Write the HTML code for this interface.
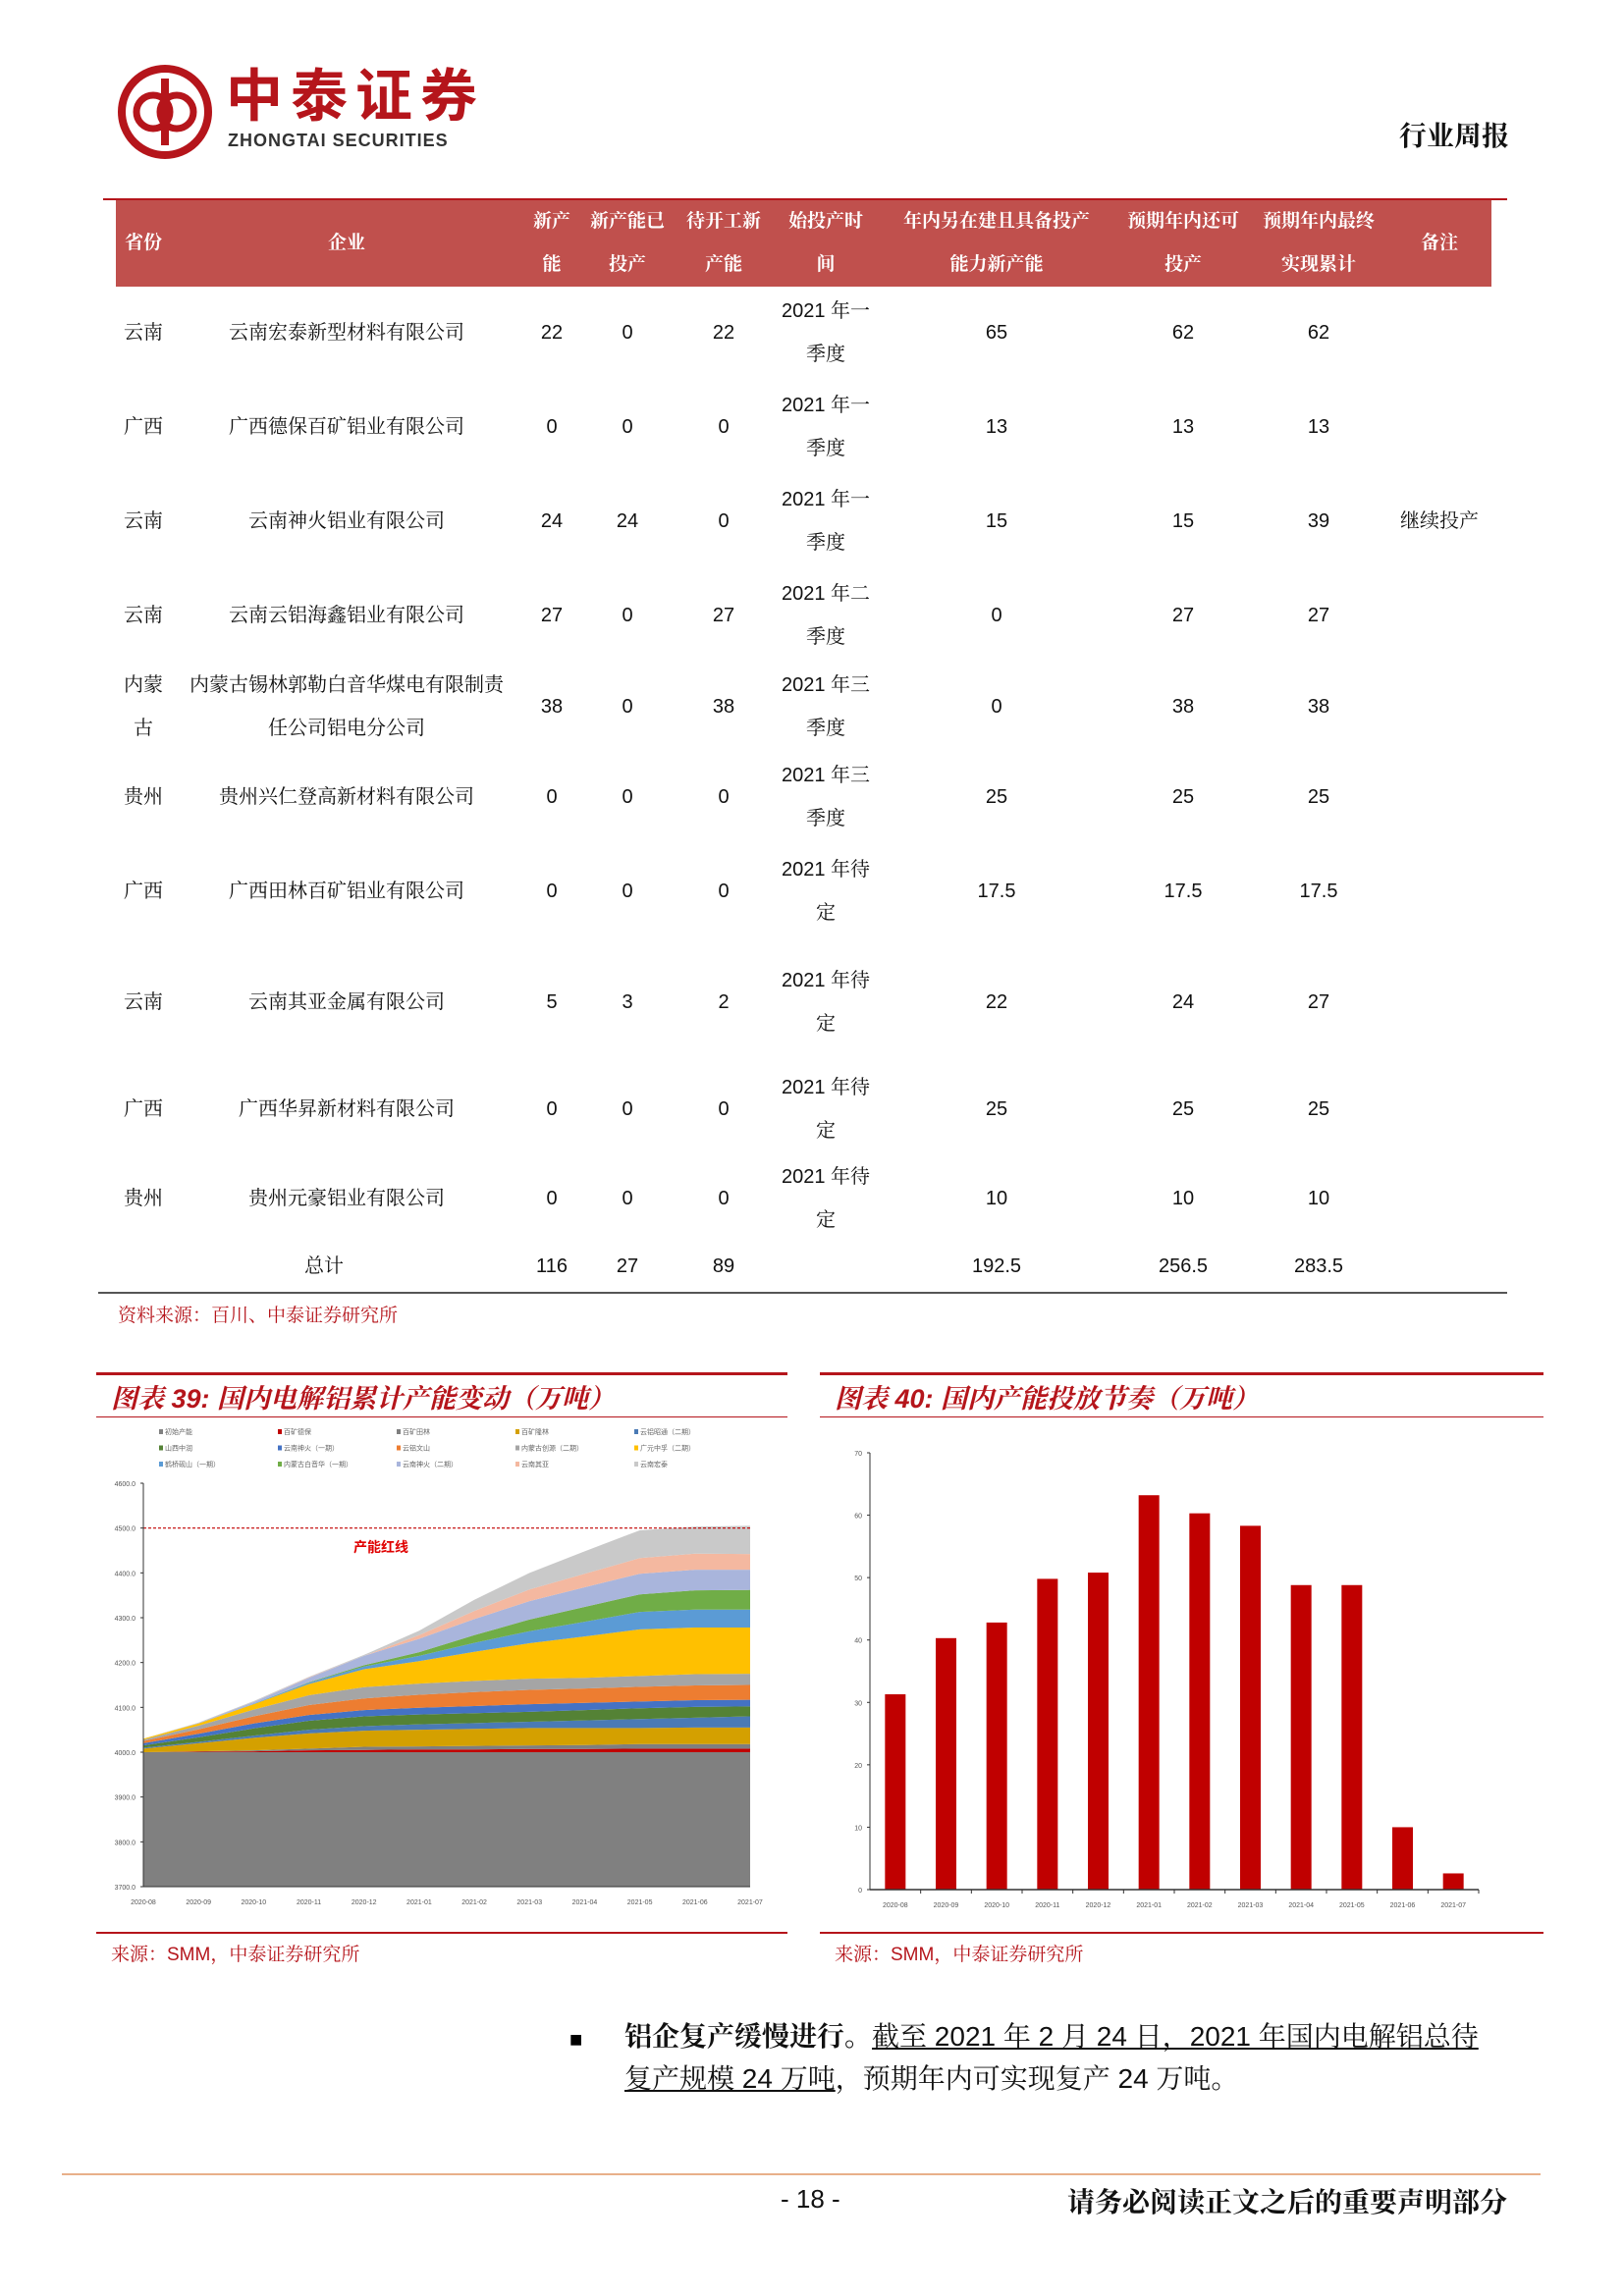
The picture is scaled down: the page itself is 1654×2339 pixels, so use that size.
<!DOCTYPE html>
<html><head><meta charset="utf-8">
<style>
body{margin:0;background:#fff;}
#page{position:relative;width:1654px;height:2339px;background:#fff;overflow:hidden;font-family:"Liberation Sans","Noto Sans CJK SC",sans-serif;}
.a{position:absolute;white-space:nowrap;}
.s{font-family:"Liberation Sans","Noto Serif CJK SC",serif;}
.hd{color:#fff;font-size:19px;font-weight:bold;transform:translate(-50%,-50%);}
.c{font-size:20px;color:#111;transform:translate(-50%,-50%);}
</style></head><body>
<div id="page">
<svg class="a" style="left:120px;top:66px" width="96" height="96">
<circle cx="48" cy="48" r="44" fill="none" stroke="#b5151b" stroke-width="8"/>
<circle cx="36" cy="48" r="17" fill="none" stroke="#b5151b" stroke-width="7"/>
<circle cx="60" cy="48" r="17" fill="none" stroke="#b5151b" stroke-width="7"/>
<rect x="44" y="14" width="8" height="68" fill="#b5151b"/></svg>
<div class="a" style="left:230px;top:66px;font-size:58px;line-height:66px;font-weight:bold;color:#b5151b;letter-spacing:8px">中泰证券</div>
<div class="a" style="left:232px;top:133px;font-size:18px;font-weight:bold;color:#333;letter-spacing:1px">ZHONGTAI SECURITIES</div>
<div class="a s" style="left:1425px;top:117px;font-size:28px;font-weight:bold;color:#111">行业周报</div>

<div class="a" style="left:105px;top:202px;width:1430px;height:2px;background:#b5151b"></div>
<div class="a" style="left:118px;top:204px;width:1401px;height:88px;background:#c0504d"></div>
<div id="tbl"></div>
<div class="a" style="left:100px;top:1316px;width:1435px;height:2px;background:#555"></div>
<div class="a s" style="left:120px;top:1325px;font-size:19px;color:#b5151b">资料来源：百川、中泰证券研究所</div>

<div class="a" style="left:98px;top:1398px;width:704px;height:3px;background:#b5151b"></div>
<div class="a s" style="left:113px;top:1403px;font-size:27px;font-weight:bold;font-style:italic;color:#b5151b">图表 39:  国内电解铝累计产能变动（万吨）</div>
<div class="a" style="left:98px;top:1443px;width:704px;height:1px;background:#b5151b"></div>
<div class="a" style="left:835px;top:1398px;width:737px;height:3px;background:#b5151b"></div>
<div class="a s" style="left:850px;top:1403px;font-size:27px;font-weight:bold;font-style:italic;color:#b5151b">图表 40:  国内产能投放节奏（万吨）</div>
<div class="a" style="left:835px;top:1443px;width:737px;height:1px;background:#b5151b"></div>
<div class="a" style="left:98px;top:1968px;width:704px;height:2px;background:#b5151b"></div>
<div class="a" style="left:835px;top:1968px;width:737px;height:2px;background:#b5151b"></div>
<div class="a s" style="left:113px;top:1976px;font-size:19px;color:#b5151b">来源：SMM，中泰证券研究所</div>
<div class="a s" style="left:850px;top:1976px;font-size:19px;color:#b5151b">来源：SMM，中泰证券研究所</div>

<svg id="charts" class="a" style="left:0;top:0" width="1654" height="2339"></svg>

<div class="a" style="left:580px;top:2065px;font-size:22px">■</div>
<div class="a s" style="left:636px;top:2053px;font-size:28px;color:#111;line-height:43px"><b>铝企复产缓慢进行。</b><u>截至 2021 年 2 月 24 日，2021 年国内电解铝总待</u><br><u>复产规模 24 万吨</u>，预期年内可实现复产 24 万吨。</div>
<div class="a" style="left:63px;top:2214px;width:1506px;height:2px;background:#e8b08a"></div>
<div class="a" style="left:795px;top:2225px;font-size:26px;color:#111">- 18 -</div>
<div class="a s" style="left:1087px;top:2222px;font-size:28px;font-weight:bold;color:#111">请务必阅读正文之后的重要声明部分</div>
</div>
<script>
// ---- table ----
const colX=[146,353,562,639,737,841,1015,1205,1343,1466];
const heads=[["省份"],["企业"],["新产","能"],["新产能已","投产"],["待开工新","产能"],["始投产时","间"],["年内另在建且具备投产","能力新产能"],["预期年内还可","投产"],["预期年内最终","实现累计"],["备注"]];
const rowY=[339,435,531,627,720,812,908,1021,1130,1221];
const prov=["云南","广西","云南","云南","内蒙\n古","贵州","广西","云南","广西","贵州"];
const firms=["云南宏泰新型材料有限公司","广西德保百矿铝业有限公司","云南神火铝业有限公司","云南云铝海鑫铝业有限公司","内蒙古锡林郭勒白音华煤电有限制责\n任公司铝电分公司","贵州兴仁登高新材料有限公司","广西田林百矿铝业有限公司","云南其亚金属有限公司","广西华昇新材料有限公司","贵州元豪铝业有限公司"];
const newCap=[22,0,24,27,38,0,0,5,0,0];
const done=[0,0,24,0,0,0,0,3,0,0];
const pend=[22,0,0,27,38,0,0,2,0,0];
const times=["2021 年一\n季度","2021 年一\n季度","2021 年一\n季度","2021 年二\n季度","2021 年三\n季度","2021 年三\n季度","2021 年待\n定","2021 年待\n定","2021 年待\n定","2021 年待\n定"];
const other=["65","13","15","0","0","25","17.5","22","25","10"];
const expect=["62","13","15","27","38","25","17.5","24","25","10"];
const final=["62","13","39","27","38","25","17.5","27","25","10"];
const note=["","","继续投产","","","","","","",""];
const tbl=document.getElementById('tbl');
function cell(x,y,txt,serif,name){
  const d=document.createElement('div');
  d.className='a c'+(serif?' s':'');
  d.style.left=x+'px';d.style.top=y+'px';
  d.style.textAlign='center';d.style.lineHeight='44px';
  d.innerHTML=txt.replace('\n','<br>');
  
  
  tbl.appendChild(d);
}
heads.forEach((h,i)=>{
  const d=document.createElement('div');
  d.className='a hd s';
  d.style.left=colX[i]+'px';d.style.top='248px';d.style.textAlign='center';d.style.lineHeight='44px';
  d.innerHTML=h.join('<br>');
  
  
  tbl.appendChild(d);
});
rowY.forEach((y,r)=>{
  cell(colX[0],y,prov[r],true,'province-cell');
  cell(colX[1],y,firms[r],true,'company-cell');
  cell(colX[2],y,String(newCap[r]),false,'new-capacity-cell');
  cell(colX[3],y,String(done[r]),false,'commissioned-cell');
  cell(colX[4],y,String(pend[r]),false,'pending-cell');
  cell(colX[5],y,times[r],true,'start-time-cell');
  cell(colX[6],y,other[r],false,'other-capacity-cell');
  cell(colX[7],y,expect[r],false,'expected-cell');
  cell(colX[8],y,final[r],false,'final-cell');
  if(note[r])cell(colX[9],y,note[r],true,'note-cell');
});
cell(330,1290,"总计",true,'total-label');
cell(562,1290,"116",false,'total-new');
cell(639,1290,"27",false,'total-done');
cell(737,1290,"89",false,'total-pending');
cell(1015,1290,"192.5",false,'total-other');
cell(1205,1290,"256.5",false,'total-expected');
cell(1343,1290,"283.5",false,'total-final');
// ---- chart data ----
const months=["2020-08","2020-09","2020-10","2020-11","2020-12","2021-01","2021-02","2021-03","2021-04","2021-05","2021-06","2021-07"];
const seriesNames=["初始产能","百矿德保","百矿田林","百矿隆林","云铝昭通（二期）","山西中润","云南神火（一期）","云铝文山","内蒙古创源（二期）","广元中孚（二期）","鹤桥砚山（一期）","内蒙古白音华（一期）","云南神火（二期）","云南其亚","云南宏泰"];
const sBase=[4000,4000,4000,4000,4000,4000,4000,4000,4000,4000,4000,4000];
const sDebao=[0,1,2,4,5,6,6,7,7,8,8,8];
const sTianlin=[0,1,2,4,7,7,8,8,9,10,10,10];
const sLonglin=[8,18,28,34,36,37,38,39,38,36,37,37];
const sZhaotong=[2,3,5,8,10,12,13,14,17,20,22,25];
const sZhongrun=[5,10,16,20,22,22,22,22,23,24,24,22];
const sShenhuo1=[5,8,11,13,14,15,16,17,16,15,15,15];
const sWenshan=[5,10,16,22,26,29,31,32,32,33,33,33];
const sChuangyuan=[3,8,15,22,25,25,25,25,24,24,25,25];
const sZhongfu=[2,5,12,25,40,50,65,79,92,104,104,103];
const sYanshan=[0,0,1,3,6,12,20,27,33,39,40,40];
const sBaiyinhua=[0,0,0,1,3,8,17,26,33,39,43,44];
const sShenhuo2=[0,1,4,10,21,30,36,41,44,46,46,45];
const sQiya=[0,0,0,1,0,8,18,26,30,35,36,35];
const sHongtai=[0,1,2,1,2,10,25,37,50,62,60,63];
const areaTicks=[3700,3800,3900,4000,4100,4200,4300,4400,4500,4600];
const redLine=4500;
const barValues=[31.3,40.3,42.8,49.8,50.8,63.2,60.3,58.3,48.8,48.8,10,2.6];
const barTicks=[0,10,20,30,40,50,60,70];
const colors=["#808080","#c00000","#7f7f7f","#d4a000","#4a7ab5","#548235","#4472c4","#ed7d31","#a5a5a5","#ffc000","#5b9bd5","#70ad47","#a9b5dc","#f4b8a0","#c9c9c9"];
const allSeries=[sBase,sDebao,sTianlin,sLonglin,sZhaotong,sZhongrun,sShenhuo1,sWenshan,sChuangyuan,sZhongfu,sYanshan,sBaiyinhua,sShenhuo2,sQiya,sHongtai];
const svg=document.getElementById('charts');
const NS="http://www.w3.org/2000/svg";
function mk(tag,attrs,parent){const e=document.createElementNS(NS,tag);for(const k in attrs)e.setAttribute(k,attrs[k]);(parent||svg).appendChild(e);return e;}
// area chart axes
const ax0=146,ax1=764,ay0=1922,ay1=1511;
const xA=i=>ax0+(ax1-ax0)*i/(months.length-1);
const yA=v=>ay0-(v-3700)/(4600-3700)*(ay0-ay1);
let cum=months.map(()=>0);
allSeries.forEach((s,k)=>{
  const lo=cum.slice();
  cum=cum.map((c,i)=>c+s[i]);
  const lower=k==0?months.map(()=>3700):lo;
  let d='';
  months.forEach((m,i)=>{d+=(i?'L':'M')+xA(i)+' '+yA(Math.max(3700,cum[i]));});
  for(let i=months.length-1;i>=0;i--)d+='L'+xA(i)+' '+yA(Math.max(3700,lower[i]));
  const p=mk('path',{d:d+'Z',fill:colors[k]});
  
  
});
const rl=mk('line',{x1:ax0,x2:ax1,y1:yA(redLine),y2:yA(redLine),stroke:'#c00000','stroke-width':1.2,'stroke-dasharray':'3,2'});


const rlt=mk('text',{x:388,y:1581,'font-size':14,'font-weight':'bold',fill:'#e00000','text-anchor':'middle'});
rlt.textContent='产能红线';


mk('line',{x1:ax0,x2:ax0,y1:ay1,y2:ay0,stroke:'#333','stroke-width':1});
mk('line',{x1:ax0,x2:ax1,y1:ay0,y2:ay0,stroke:'#333','stroke-width':1});
areaTicks.forEach(t=>{
  const tx=mk('text',{x:ax0-8,y:yA(t)+3,'font-size':7,fill:'#555','text-anchor':'end'});
  tx.textContent=t.toFixed(1);
  
  
  mk('line',{x1:ax0-3,x2:ax0,y1:yA(t),y2:yA(t),stroke:'#333'});
});
months.forEach((m,i)=>{
  const tx=mk('text',{x:xA(i),y:1940,'font-size':7,fill:'#555','text-anchor':'middle'});
  tx.textContent=m;
  
  
});
seriesNames.forEach((n,k)=>{
  const lx=162+(k%5)*121,ly=1460+Math.floor(k/5)*16.5;
  mk('rect',{x:lx,y:ly-4,width:4,height:5,fill:colors[k]});
  const tx=mk('text',{x:lx+6,y:ly+1,'font-size':7,fill:'#666'});
  tx.textContent=n;
  
  
});
// bar chart
const bx0=886,bx1=1506,by0=1925,by1=1480;
const bw=(bx1-bx0)/barValues.length;
const yB=v=>by0-v/70*(by0-by1);
barValues.forEach((v,i)=>{
  const r=mk('rect',{x:bx0+bw*i+bw/2-10.5,y:yB(v),width:21,height:by0-yB(v),fill:'#c00000'});
  
  
  const tx=mk('text',{x:bx0+bw*i+bw/2,y:1943,'font-size':7,fill:'#555','text-anchor':'middle'});
  tx.textContent=months[i];
  
  
  mk('line',{x1:bx0+bw*(i+1),x2:bx0+bw*(i+1),y1:by0,y2:by0+4,stroke:'#333'});
});
mk('line',{x1:bx0,x2:bx0,y1:by1,y2:by0,stroke:'#333'});
mk('line',{x1:bx0,x2:bx1,y1:by0,y2:by0,stroke:'#333','stroke-width':1.5});
barTicks.forEach(t=>{
  const tx=mk('text',{x:bx0-8,y:yB(t)+3,'font-size':7,fill:'#555','text-anchor':'end'});
  tx.textContent=t;
  
  
  mk('line',{x1:bx0-3,x2:bx0,y1:yB(t),y2:yB(t),stroke:'#333'});
});
</script>
</body></html>
